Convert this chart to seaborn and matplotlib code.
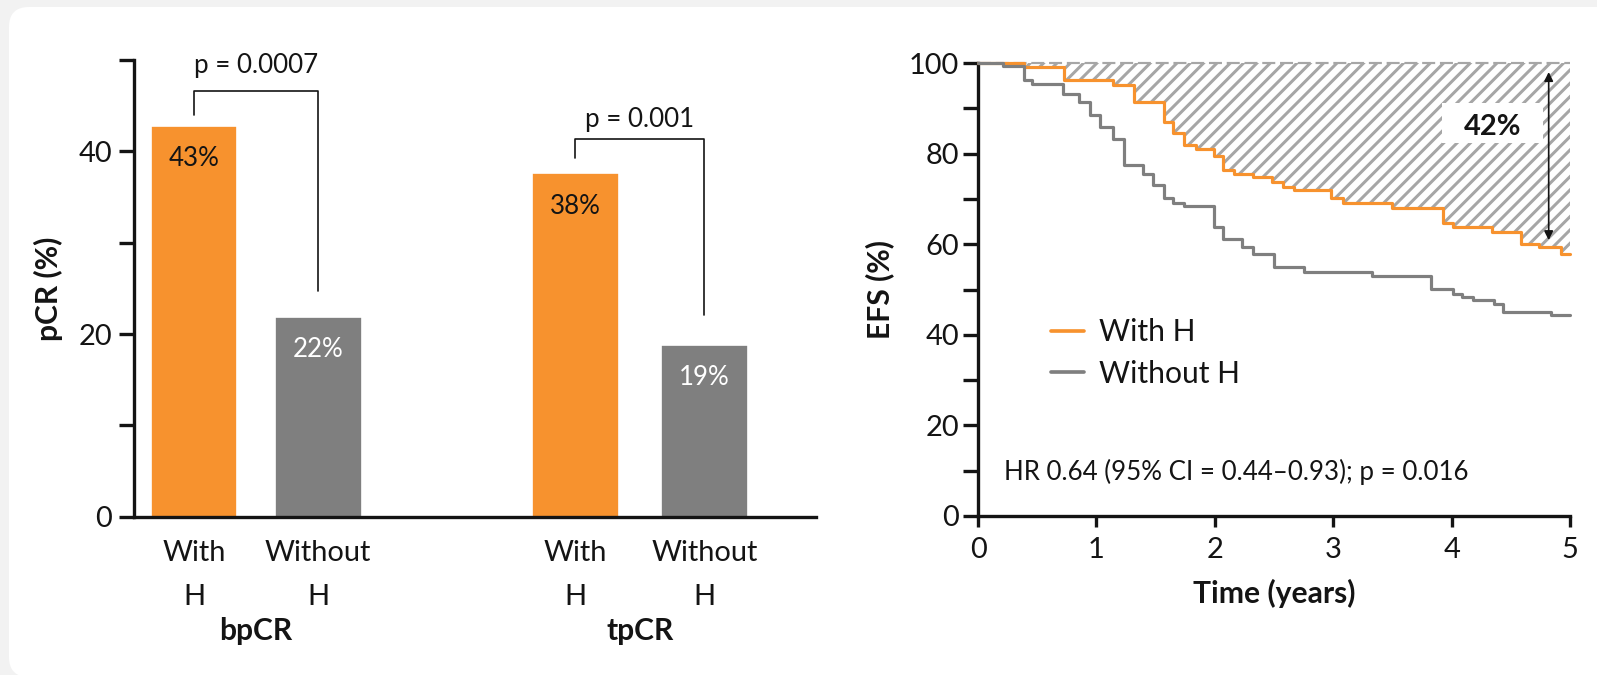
import matplotlib
matplotlib.use('Agg')
import matplotlib.pyplot as plt
import pandas as pd
import seaborn as sns
from matplotlib.patches import FancyBboxPatch, Rectangle
from matplotlib.ticker import MultipleLocator

# ---- bar panel data ----
groups = ['bpCR', 'bpCR', 'tpCR', 'tpCR']
arms = ['With H', 'Without H', 'With H', 'Without H']
bar_pos = [0.0, 1.0, 3.07, 4.11]
pcr = [42.8, 21.9, 37.6, 18.8]
pcr_labels = ['43%', '22%', '38%', '19%']
tick_labels = ['With\nH', 'Without\nH', 'With\nH', 'Without\nH']
p_texts = ['p = 0.0007', 'p = 0.001']
p_text_y = [49.4, 43.5]
bracket_top = [46.6, 41.4]
bracket_left_end = [44.0, 39.3]
bracket_right_end = [24.7, 22.1]

# ---- Kaplan-Meier data ----
t_with = [0, 0.39, 0.73, 1.14, 1.32, 1.57, 1.65, 1.74, 1.84, 1.99, 2.07, 2.16, 2.32,
          2.48, 2.58, 2.67, 2.98, 3.08, 3.50, 3.93, 4.01, 4.34, 4.59, 4.74, 4.92, 5.0]
efs_with = [100, 99.1, 96.3, 95.2, 91.4, 87.0, 84.6, 81.8, 81.1, 79.5, 76.3, 75.6, 74.9,
            73.8, 72.6, 71.9, 70.1, 69.0, 67.9, 64.6, 63.7, 62.7, 60.1, 59.3, 57.9, 57.9]
t_without = [0, 0.21, 0.39, 0.46, 0.72, 0.85, 0.95, 1.03, 1.14, 1.23, 1.39, 1.48, 1.57,
             1.65, 1.74, 1.99, 2.07, 2.23, 2.32, 2.50, 2.75, 3.33, 3.83, 4.01, 4.09, 4.18,
             4.36, 4.43, 4.84, 5.0]
efs_without = [100, 99.3, 96.2, 95.4, 93.2, 91.4, 88.5, 85.9, 83.3, 77.4, 75.6, 73.0, 70.1,
               69.0, 68.5, 63.8, 61.2, 59.4, 57.9, 55.0, 53.9, 52.9, 50.2, 49.1, 48.4, 47.6,
               46.9, 45.1, 44.3, 44.3]
hr_text = 'HR 0.64 (95% CI = 0.44\u20130.93); p = 0.016'
gap_text = '42%'

ORANGE = '#F7922E'
GREY = '#7F7F7F'
HATCH = '#A6A6A6'
INK = '#141414'

sns.set_style('white')
plt.rcParams['font.family'] = ['Lato', 'DejaVu Sans']
plt.rcParams['hatch.linewidth'] = 1.8
plt.rcParams['hatch.color'] = HATCH

DPI = 120
W, H = 1597, 675
fig = plt.figure(figsize=(W / DPI, H / DPI), dpi=DPI, facecolor='#F2F2F2')

# white rounded panel
panel = FancyBboxPatch((9 / DPI, -2 / DPI), 1700 / DPI, (H - 7 + 2) / DPI,
                       boxstyle='round,pad=0,rounding_size=%f' % (20 / DPI),
                       transform=fig.dpi_scale_trans, facecolor='white',
                       edgecolor='none', zorder=-10)
fig.patches.append(panel)


def px_axes(x0, x1, y_top, y_bot):
    return fig.add_axes([x0 / W, (H - y_bot) / H, (x1 - x0) / W, (y_bot - y_top) / H])


# ================= left: bar chart =================
ax1 = px_axes(134, 816, 60, 516.7)
ax1.set_facecolor('none')
bars = pd.DataFrame({'pos': bar_pos, 'pCR': pcr, 'arm': arms, 'group': groups})
sns.barplot(data=bars, x='pos', y='pCR', hue='arm', native_scale=True, dodge=False,
            width=0.7, saturation=1, palette={'With H': ORANGE, 'Without H': GREY},
            legend=False, ax=ax1)

ax1.set_xlim(-0.483, 5.01)
ax1.set_ylim(0, 50)
ax1.yaxis.set_major_locator(MultipleLocator(20))
ax1.yaxis.set_minor_locator(MultipleLocator(10))
ax1.set_xticks(bar_pos)
ax1.set_xticklabels(tick_labels, fontsize=17.4, color=INK, linespacing=1.85)
ax1.tick_params(axis='x', length=0, pad=14)
ax1.tick_params(axis='y', which='both', direction='out', length=9, width=2.0,
                color=INK, left=True)
ax1.tick_params(axis='y', labelsize=17.4, labelcolor=INK, pad=4)
for s in ['top', 'right']:
    ax1.spines[s].set_visible(False)
for s in ['left', 'bottom']:
    ax1.spines[s].set_linewidth(2.0)
    ax1.spines[s].set_color(INK)
ax1.set_xlabel('')
ax1.set_ylabel('pCR (%)', fontsize=18, fontweight='bold', color=INK, va='center')
ax1.yaxis.set_label_coords(-0.126, 0.5)

for x, v, lab, arm in zip(bar_pos, pcr, pcr_labels, arms):
    ax1.text(x, v - 3.6, lab, ha='center', va='center', fontsize=15.5,
             color=INK if arm == 'With H' else 'white')

# brackets with p-values
for i in range(2):
    xl, xr = bar_pos[2 * i], bar_pos[2 * i + 1]
    ax1.plot([xl, xl, xr, xr],
             [bracket_left_end[i], bracket_top[i], bracket_top[i], bracket_right_end[i]],
             color=INK, lw=1.0, clip_on=False)
    ax1.text((xl + xr) / 2, p_text_y[i], p_texts[i], ha='center', va='center',
             fontsize=15.5, color=INK)

# group labels
for i, g in enumerate(['bpCR', 'tpCR']):
    xc = (bar_pos[2 * i] + bar_pos[2 * i + 1]) / 2
    ax1.text(xc, -0.25, g, transform=ax1.get_xaxis_transform(), ha='center',
             va='center', fontsize=18, fontweight='bold', color=INK)

# ================= right: Kaplan-Meier =================
ax2 = px_axes(978, 1570, 63, 516)
ax2.set_facecolor('none')
km = pd.concat([
    pd.DataFrame({'time': t_with, 'EFS': efs_with, 'arm': 'With H'}),
    pd.DataFrame({'time': t_without, 'EFS': efs_without, 'arm': 'Without H'}),
])

# hatched gap between the with-H curve and 100 %
ax2.fill_between(t_with, efs_with, 100, step='post', facecolor='none',
                 edgecolor=HATCH, hatch='///', linewidth=0, zorder=1)
ax2.hlines(100, 0, 5, colors=HATCH, linestyles=(0, (6, 2.2)), lw=1.3, zorder=1.5,
           clip_on=False)

sns.lineplot(data=km, x='time', y='EFS', hue='arm',
             palette={'With H': ORANGE, 'Without H': GREY},
             estimator=None, drawstyle='steps-post', lw=1.9, ax=ax2, zorder=3)
for ln in ax2.lines:
    ln.set_clip_on(False)

# white box + label for the 42 % gap
ax2.add_patch(Rectangle((3.92, 82.3), 0.85, 8.9, facecolor='white', edgecolor='none',
                        zorder=2))
ax2.text(4.35, 85.8, gap_text, ha='center', va='center', fontsize=17.4,
         fontweight='bold', color=INK, zorder=4)
ax2.annotate('', xy=(4.82, 60.9), xytext=(4.82, 98.0),
             arrowprops=dict(arrowstyle='<|-|>', color=INK, lw=1.0,
                             mutation_scale=11, shrinkA=0, shrinkB=0), zorder=4)

ax2.text(0.22, 9.7, hr_text, ha='left', va='center', fontsize=15.5, color=INK)

ax2.set_xlim(0, 5)
ax2.set_ylim(0, 100)
ax2.xaxis.set_major_locator(MultipleLocator(1))
ax2.yaxis.set_major_locator(MultipleLocator(20))
ax2.yaxis.set_minor_locator(MultipleLocator(10))
ax2.tick_params(axis='y', which='both', direction='out', length=9, width=2.0,
                color=INK, left=True)
ax2.tick_params(axis='x', which='both', direction='out', length=6.6, width=2.0,
                color=INK, bottom=True)
ax2.tick_params(axis='y', labelsize=17.4, labelcolor=INK, pad=2.4)
ax2.tick_params(axis='x', labelsize=17.4, labelcolor=INK, pad=6)
for s in ['top', 'right']:
    ax2.spines[s].set_visible(False)
for s in ['left', 'bottom']:
    ax2.spines[s].set_linewidth(2.0)
    ax2.spines[s].set_color(INK)
ax2.set_ylabel('EFS (%)', fontsize=18, fontweight='bold', color=INK, va='center')
ax2.yaxis.set_label_coords(-0.166, 0.5)
ax2.set_xlabel('Time (years)', fontsize=18, fontweight='bold', color=INK, va='center')
ax2.xaxis.set_label_coords(0.5, -0.17)

leg = ax2.legend(loc='center left', bbox_to_anchor=(0.078, 0.36), frameon=False,
                 fontsize=18, handlelength=1.1, handletextpad=0.5, labelspacing=0.45)
for h in leg.get_lines():
    h.set_linewidth(2.2)
for t in leg.get_texts():
    t.set_color(INK)

fig.savefig('out.png', dpi=DPI, facecolor=fig.get_facecolor())
